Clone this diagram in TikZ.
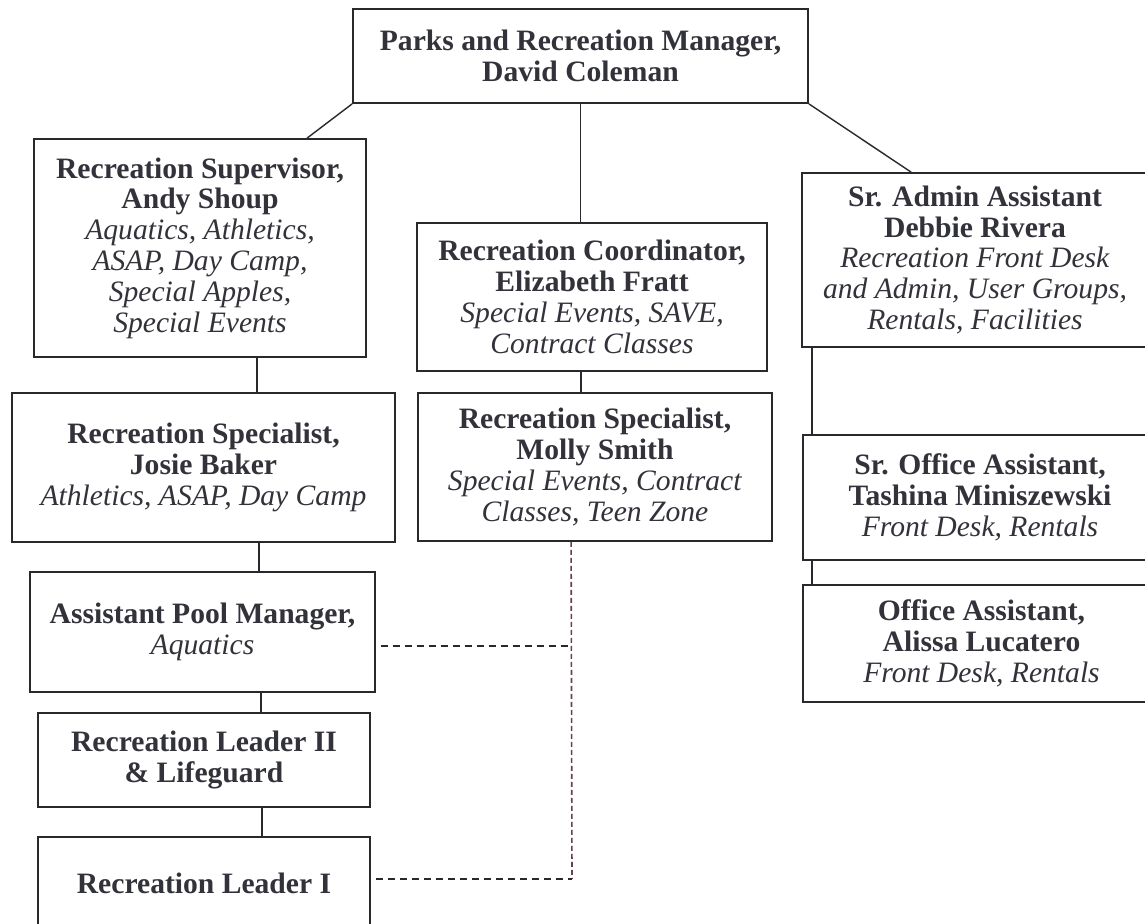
\documentclass[tikz,border=0pt]{standalone}
\usepackage{fontspec}
\setmainfont{Liberation Serif}
\usetikzlibrary{calc}
\definecolor{boxline}{RGB}{40,40,45}
\definecolor{txt}{RGB}{50,50,58}
\definecolor{dashbrown}{RGB}{105,65,78}
\tikzset{
  box/.style={draw=boxline, line width=1.8pt, rectangle, inner sep=0pt, align=center,
    font=\fontsize{29.6}{30.8}\selectfont, text=txt},
  link/.style={draw=boxline, line width=1.4pt},
  dashh/.style={draw=boxline, line width=1.5pt, dash pattern=on 7pt off 5pt},
  dashv/.style={draw=dashbrown, line width=1.6pt, dash pattern=on 5pt off 3pt}
}
\begin{document}
\begin{tikzpicture}[x=1pt,y=-1pt]
\useasboundingbox (0,0) rectangle (1145,923);
\clip (0,0) rectangle (1145,923);
\fill[white] (0,0) rectangle (1145,923);

\node[box, minimum width=455pt, minimum height=94pt] (top) at (580.5,56)
  {\textbf{Parks and Recreation Manager,}\\\textbf{David Coleman}};
\node[box, minimum width=332pt, minimum height=218pt] (sup) at (200,248)
  {\textbf{Recreation Supervisor,}\\\textbf{Andy Shoup}\\\textit{Aquatics, Athletics,}\\\textit{ASAP, Day Camp,}\\\textit{Special Apples,}\\\textit{Special Events}};
\node[box, minimum width=350pt, minimum height=148pt] (coord) at (592,297)
  {\textbf{Recreation Coordinator,}\\\textbf{Elizabeth Fratt}\\\textit{Special Events, SAVE,}\\\textit{Contract Classes}};
\node[box, minimum width=346pt, minimum height=174pt] (admin) at (975,260)
  {\textbf{Sr. Admin Assistant}\\\textbf{Debbie Rivera}\\\textit{Recreation Front Desk}\\\textit{and Admin, User Groups,}\\\textit{Rentals, Facilities}};
\node[box, minimum width=383pt, minimum height=149pt] (josie) at (203.5,467.5)
  {\textbf{Recreation Specialist,}\\\textbf{Josie Baker}\\\textit{Athletics, ASAP, Day Camp}};
\node[box, minimum width=354pt, minimum height=148pt] (molly) at (595,467)
  {\textbf{Recreation Specialist,}\\\textbf{Molly Smith}\\\textit{Special Events, Contract}\\\textit{Classes, Teen Zone}};
\node[box, minimum width=354pt, minimum height=125pt] (tashina) at (980,497.5)
  {\textbf{Sr. Office Assistant,}\\\textbf{Tashina Miniszewski}\\\textit{Front Desk, Rentals}};
\node[box, minimum width=357pt, minimum height=117pt] (alissa) at (981.5,643.5)
  {\textbf{Office Assistant,}\\\textbf{Alissa Lucatero}\\\textit{Front Desk, Rentals}};
\node[box, minimum width=345pt, minimum height=120pt] (apm) at (202.5,632)
  {\textbf{Assistant Pool Manager,}\\\textit{Aquatics}};
\node[box, minimum width=332pt, minimum height=94pt] (lii) at (204,760)
  {\textbf{Recreation Leader II}\\\textbf{\& Lifeguard}};
\node[box, minimum width=332pt, minimum height=93pt] (li) at (204,883.5)
  {\textbf{Recreation Leader I}};

% solid connectors
\draw[link] (top.south west) -- ([xshift=274pt]sup.north west);
\draw[link] (top.south) -- (top.south |- coord.north);
\draw[link] (top.south east) -- ([xshift=110pt]admin.north west);
\draw[link] ([xshift=224pt]sup.south west) -- ([xshift=224pt]sup.south west |- josie.north);
\draw[link] ([xshift=248pt]josie.south west) -- ([xshift=248pt]josie.south west |- apm.north);
\draw[link] ([xshift=232pt]apm.south west) -- ([xshift=232pt]apm.south west |- lii.north);
\draw[link] ([xshift=225pt]lii.south west) -- ([xshift=225pt]lii.south west |- li.north);
\draw[link] ([xshift=165pt]coord.south west) -- ([xshift=165pt]coord.south west |- molly.north);
\draw[link] ([xshift=11pt]admin.south west) -- ([xshift=11pt]admin.south west |- tashina.north);
\draw[link] ([xshift=10pt]tashina.south west) -- ([xshift=10pt]tashina.south west |- alissa.north);

% dashed connectors
\coordinate (dtop) at ([xshift=154pt]molly.south west);
\coordinate (dmid) at (572,646);
\coordinate (dbot) at (572,879);
\draw[dashv] (dtop) -- (dbot);
\draw[dashh] ([xshift=5pt,yshift=-14pt]apm.east) -- (dmid);
\draw[dashh] ([xshift=5pt,yshift=4.5pt]li.east) -- (dbot);
\end{tikzpicture}
\end{document}
